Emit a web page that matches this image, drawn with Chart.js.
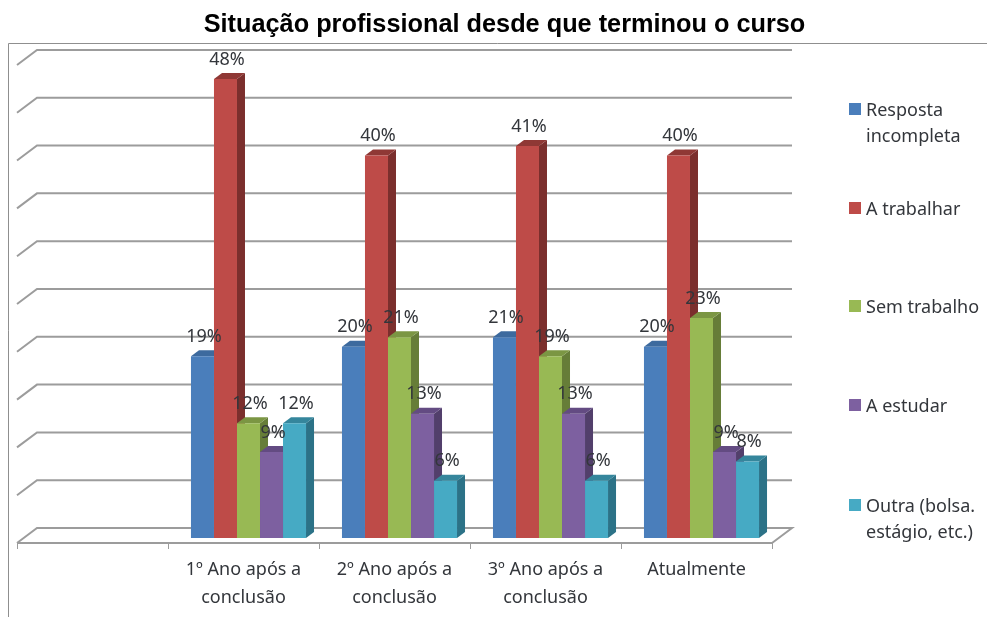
<!DOCTYPE html>
<html>
<head>
<meta charset="utf-8">
<style>
  body { margin: 0; background: #fff; }
  canvas { display: block; }
</style>
<script src="https://cdn.jsdelivr.net/npm/chart.js@4"></script>
</head>
<body>
<canvas id="grafico" width="987" height="617"></canvas>
<script>
// Dados (a primeira categoria fica vazia, como no original)
const categorias = ['', ['1º Ano após a', 'conclusão'], ['2º Ano após a', 'conclusão'], ['3º Ano após a', 'conclusão'], 'Atualmente'];
const respostaIncompleta = [null, 19, 20, 21, 20];
const aTrabalhar = [null, 48, 40, 41, 40];
const semTrabalho = [null, 12, 21, 19, 23];
const aEstudar = [null, 9, 13, 13, 9];
const outra = [null, 12, 6, 6, 8];

const nomesSeries = ['Resposta incompleta', 'A trabalhar', 'Sem trabalho', 'A estudar', 'Outra (bolsa. estágio, etc.)'];
const linhasLegenda = [['Resposta', 'incompleta'], ['A trabalhar'], ['Sem trabalho'], ['A estudar'], ['Outra (bolsa.', 'estágio, etc.)']];
const centrosLegenda = [109, 208, 306, 405, 505];

const coresFrente = ['#4a7ebb', '#be4b48', '#98b954', '#7d60a0', '#46aac4'];
const coresLado = ['#35587f', '#7b2f2d', '#667d38', '#523f6b', '#2c7287'];
const coresTopo = ['#3d6a9e', '#8f3835', '#7b9643', '#634b82', '#35869c'];

const corGrade = '#9c9c9c';
const corTexto = '#33363b';
const fonteTexto = '"Noto Sans", sans-serif';
const fundoDy = 10;                 // deslocamento da parede do fundo
const frenteDx = 5, frenteDy = 5;   // deslocamento da frente do piso
const ladoDx = 8, ladoDy = 6;       // profundidade das barras

// Moldura e grade em perspectiva
const grade3d = {
  id: 'grade3d',
  beforeDatasetsDraw(chart) {
    const { ctx, chartArea: area } = chart;
    const y = chart.scales.y;
    const x = chart.scales.x;
    ctx.save();
    ctx.strokeStyle = '#8f8f8f';
    ctx.lineWidth = 1;
    ctx.beginPath();
    ctx.moveTo(8.5, 617);
    ctx.lineTo(8.5, 43.5);
    ctx.lineTo(987, 43.5);
    ctx.stroke();

    ctx.strokeStyle = corGrade;
    ctx.lineWidth = 2;
    const esq = area.left - frenteDx;
    const dir = area.right - frenteDx;
    y.ticks.forEach(function (t) {
      const py = y.getPixelForValue(t.value);
      ctx.beginPath();
      ctx.moveTo(esq, py + frenteDy);
      ctx.lineTo(esq + 20, py - fundoDy);
      ctx.lineTo(dir + 20, py - fundoDy);
      if (t.value === 0) ctx.lineTo(dir, py + frenteDy);
      ctx.stroke();
    });
    // linha da frente do piso e marcas do eixo
    const y0 = y.getPixelForValue(0) + frenteDy;
    ctx.beginPath();
    ctx.moveTo(esq, y0);
    ctx.lineTo(dir, y0);
    ctx.stroke();
    ctx.lineWidth = 1;
    ctx.beginPath();
    const passo = x.width / categorias.length;
    for (let i = 0; i <= categorias.length; i++) {
      const px = Math.round(esq + passo * i) + 0.5;
      ctx.moveTo(px, y0);
      ctx.lineTo(px, y0 + 6);
    }
    ctx.stroke();

    // Faces laterais e topo, da esquerda para a direita; as frentes vêm depois
    chart.data.datasets.forEach(function (ds, i) {
      chart.getDatasetMeta(i).data.forEach(function (barra, j) {
        if (ds.data[j] == null) return;
        const lDir = barra.x + barra.width / 2;
        const lEsq = barra.x - barra.width / 2;
        ctx.fillStyle = coresLado[i];
        ctx.beginPath();
        ctx.moveTo(lDir, barra.y);
        ctx.lineTo(lDir + ladoDx, barra.y - ladoDy);
        ctx.lineTo(lDir + ladoDx, barra.base - ladoDy);
        ctx.lineTo(lDir, barra.base);
        ctx.closePath();
        ctx.fill();
        ctx.fillStyle = coresTopo[i];
        ctx.beginPath();
        ctx.moveTo(lEsq, barra.y);
        ctx.lineTo(lEsq + ladoDx, barra.y - ladoDy);
        ctx.lineTo(lDir + ladoDx, barra.y - ladoDy);
        ctx.lineTo(lDir, barra.y);
        ctx.closePath();
        ctx.fill();
      });
    });
    ctx.restore();
  }
};

// Rótulos de valor e legenda
const rotulos = {
  id: 'rotulos',
  afterDatasetsDraw(chart) {
    const { ctx } = chart;
    ctx.save();
    ctx.font = '18px ' + fonteTexto;
    ctx.fillStyle = corTexto;
    ctx.textAlign = 'center';
    ctx.textBaseline = 'middle';
    chart.data.datasets.forEach(function (ds, i) {
      chart.getDatasetMeta(i).data.forEach(function (barra, j) {
        if (ds.data[j] == null) return;
        ctx.fillText(ds.data[j] + '%', barra.x + 1.5, barra.y - 19.5);
      });
    });

    ctx.textAlign = 'left';
    linhasLegenda.forEach(function (linhas, i) {
      const cy = centrosLegenda[i];
      ctx.fillStyle = coresFrente[i];
      ctx.fillRect(849, cy - 6, 12, 12);
      ctx.fillStyle = corTexto;
      linhas.forEach(function (txt, k) {
        ctx.fillText(txt, 866, cy + 1.5 + k * 26);
      });
    });
    ctx.restore();
  }
};

const seriesValores = [respostaIncompleta, aTrabalhar, semTrabalho, aEstudar, outra];

new Chart(document.getElementById('grafico').getContext('2d'), {
  type: 'bar',
  data: {
    labels: categorias,
    datasets: seriesValores.map(function (valores, i) {
      return {
        label: nomesSeries[i],
        data: valores,
        backgroundColor: coresFrente[i],
        borderWidth: 0,
        categoryPercentage: 0.762,
        barPercentage: 1
      };
    })
  },
  plugins: [grade3d, rotulos],
  options: {
    responsive: false,
    animation: false,
    layout: { padding: { left: 22, right: 0, top: 0, bottom: 0 } },
    plugins: {
      legend: { display: false },
      tooltip: { enabled: false },
      title: {
        display: true,
        text: 'Situação profissional desde que terminou o curso',
        color: '#000',
        font: { family: '"Liberation Sans", Arial, sans-serif', size: 25.3, weight: 'bold' },
        padding: { top: 10, bottom: 19.6 }
      }
    },
    scales: {
      x: {
        grid: { display: false },
        border: { display: false },
        ticks: {
          color: corTexto,
          font: { family: fonteTexto, size: 18, lineHeight: 1.55 },
          maxRotation: 0,
          autoSkip: false,
          labelOffset: -5,
          padding: 10
        },
        afterFit(escala) { escala.height = 79; }
      },
      y: {
        display: false,
        min: 0,
        max: 50,
        ticks: { stepSize: 5 }
      },
      folga: {
        position: 'right',
        grid: { display: false },
        border: { display: false },
        ticks: { display: false },
        afterFit(escala) { escala.width = 210; }
      }
    }
  }
});
</script>
</body>
</html>
